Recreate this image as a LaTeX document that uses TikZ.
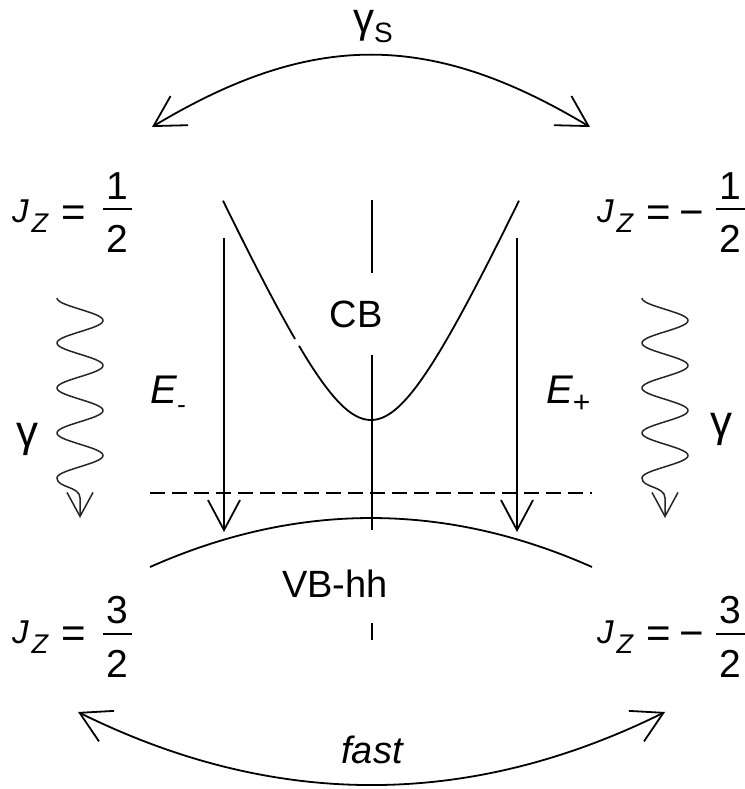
\documentclass[tikz,border=0pt]{standalone}
\usepackage{fontspec}
\setmainfont{Liberation Sans}
\usetikzlibrary{arrows.meta}
\newcommand{\myfrac}[2]{\vbox{\hbox to 29pt{\hss\fontsize{39}{39}\selectfont #1\hss}\kern 9pt\hrule height 1.6pt\kern 15pt\hbox to 29pt{\hss\fontsize{39}{39}\selectfont #2\hss}}}
\newcommand{\jzeq}[1]{{\fontsize{33}{33}\selectfont\itshape J}\kern3pt\raisebox{-10pt}{\fontsize{27}{27}\selectfont\itshape Z}\kern13pt\raisebox{-4pt}{\fontsize{42}{42}\selectfont =}#1}
\newcommand{\mns}{\kern9pt\raisebox{-4pt}{\fontsize{42}{42}\selectfont −}}
\tikzset{
  ln/.style={line width=1.8pt},
  lbl/.style={inner sep=0pt, text=black},
  bigbarb/.style={line width=1.8pt, {Straight Barb[length=30pt,width=34pt]}-{Straight Barb[length=30pt,width=34pt]}},
  downarrow/.style={line width=1.8pt, -{Straight Barb[length=30pt,width=32pt]}},
  wavy/.style={line width=1.5pt, draw=black!85, -{Straight Barb[length=24pt,width=26pt]}},
  dashline/.style={line width=2.4pt, dash pattern=on 15pt off 7pt}
}
\begin{document}
\begin{tikzpicture}[x=1pt,y=-1pt]
\fill[white] (0,0) rectangle (744,789);
\useasboundingbox (0,0) rectangle (744,789);

% top arc gamma_s
\coordinate (ta) at (152,127);
\coordinate (tb) at (590,127);
\draw[bigbarb] (ta) .. controls (312,31) and (430,31) .. (tb);
\node[lbl, anchor=base west] (gs) at (353,33) {\fontsize{42}{42}\selectfont γ\raisebox{-10pt}{\fontsize{28}{28}\selectfont S}};

% bottom arc fast
\coordinate (ba) at (78,712);
\coordinate (bb) at (665,712);
\draw[bigbarb] (ba) .. controls (274,809) and (469,809) .. (bb);
\node[lbl, anchor=base] (fast) at (372,763) {\fontsize{38}{38}\selectfont\itshape fast};

% J labels
\node[lbl, anchor=base west] (jtl) at (12,222) {\jzeq{}};
\node[lbl, anchor=base] (ftl) at (117.5,252) {\myfrac{1}{2}};
\node[lbl, anchor=base west] (jtr) at (597,222) {\jzeq{\mns}};
\node[lbl, anchor=base] (ftr) at (730,252) {\myfrac{1}{2}};
\node[lbl, anchor=base west] (jbl) at (12,643) {\jzeq{}};
\node[lbl, anchor=base] (fbl) at (117.5,677) {\myfrac{3}{2}};
\node[lbl, anchor=base west] (jbr) at (597,643) {\jzeq{\mns}};
\node[lbl, anchor=base] (fbr) at (730,677) {\myfrac{3}{2}};

% center axis
\coordinate (c1) at (372,200); \coordinate (c2) at (372,273);
\coordinate (c3) at (372,355); \coordinate (c4) at (372,530);
\coordinate (c5) at (372,623); \coordinate (c6) at (372,640);
\draw[ln] (c1) -- (c2);
\draw[ln] (c3) -- (c4);
\draw[ln] (c5) -- (c6);
\node[lbl, anchor=base] (cb) at (356,327) {\fontsize{38}{38}\selectfont CB};
\node[lbl, anchor=base] (vb) at (335,597) {\fontsize{38}{38}\selectfont VB-hh};

% conduction band
\draw[ln] plot[domain=-148:-76, samples=50, smooth] ({371+\x}, {420 - 22*(sqrt((\x/10)^2 + 36) - 6)});
\draw[ln] plot[domain=-72:148, samples=120, smooth] ({371+\x}, {420 - 22*(sqrt((\x/10)^2 + 36) - 6)});

% valence band
\coordinate (v1) at (150,567);
\coordinate (v2) at (592,567);
\draw[ln] (v1) .. controls (297,501.7) and (445,501.7) .. (v2);

% dashed level
\coordinate (d1) at (150,493);
\coordinate (d2) at (592,493);
\draw[dashline] (d1) -- (d2);

% transition arrows
\coordinate (el1) at (224,238); \coordinate (el2) at (224,532);
\coordinate (er1) at (517,238); \coordinate (er2) at (517,532);
\draw[downarrow] (el1) -- (el2);
\draw[downarrow] (er1) -- (er2);
\node[lbl, anchor=base west] (em) at (150,403) {\fontsize{40}{40}\selectfont\itshape E\raisebox{-10pt}{\fontsize{26}{26}\selectfont -}};
\node[lbl, anchor=base west] (ep) at (546,403) {\fontsize{40}{40}\selectfont\itshape E\raisebox{-9pt}{\fontsize{30}{30}\selectfont\upshape +}};

% wavy photon arrows
\coordinate (wl) at (80,518);
\coordinate (wr) at (665,518);
\draw[wavy] plot[domain=0:1440, samples=200, smooth] ({80 - 23*cos(\x)}, {298 + \x/8}) .. controls (57,488) and (80,486) .. (80,498) -- (wl);
\draw[wavy] plot[domain=0:1440, samples=200, smooth] ({665 - 23*cos(\x)}, {298 + \x/8}) .. controls (642,488) and (665,486) .. (665,498) -- (wr);
\node[lbl, anchor=base west] (gl) at (16,446) {\fontsize{44}{44}\selectfont γ};
\node[lbl, anchor=base west] (gr) at (710,436) {\fontsize{44}{44}\selectfont γ};
\end{tikzpicture}
\end{document}
